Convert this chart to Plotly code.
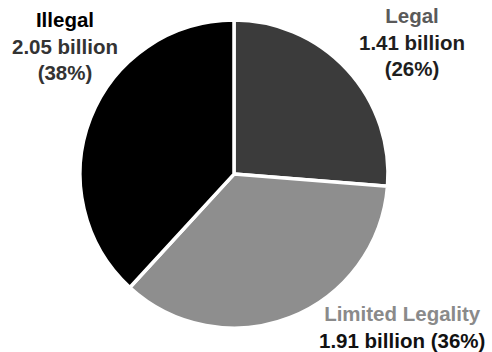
import plotly.graph_objects as go

categories = ["Legal", "Limited Legality", "Illegal"]
values_billion = [1.41, 1.91, 2.05]
slice_colors = ["#3b3b3b", "#8e8e8e", "#000000"]
name_colors = ["#5a5a5a", "#8a8a8a", "#000000"]
value_colors = ["#1e1e1e", "#111111", "#333333"]

total = sum(values_billion)
pcts = [round(v / total * 100) for v in values_billion]

fig = go.Figure(go.Pie(
    labels=categories,
    values=values_billion,
    sort=False,
    direction="clockwise",
    rotation=0,
    textinfo="none",
    hoverinfo="label+value+percent",
    marker=dict(colors=slice_colors, line=dict(color="white", width=3.5)),
    domain=dict(x=[0.1626, 0.7886], y=[0.068, 0.943]),
    showlegend=False,
))

font = dict(family="Liberation Sans, Arial, sans-serif", size=20.5, color="#222222")

def label(i, two_lines=False):
    name = f"<b><span style='color:{name_colors[i]}'>{categories[i]}</span></b>"
    val = f"<b><span style='color:{value_colors[i]}'>{values_billion[i]:.2f} billion</span></b>"
    pct = f"<b><span style='color:{value_colors[i]}'>({pcts[i]}%)</span></b>"
    if two_lines:
        return f"{name}<br>{val} {pct}"
    return f"{name}<br>{val}<br>{pct}"

fig.add_annotation(text=label(2), x=65/492, y=1-46/352, xref="paper", yref="paper",
                   showarrow=False, font=font, align="center", xanchor="center", yanchor="middle")
fig.add_annotation(text=label(0), x=412/492, y=1-42/352, xref="paper", yref="paper",
                   showarrow=False, font=font, align="center", xanchor="center", yanchor="middle")
fig.add_annotation(text=label(1, True), x=402/492, y=1-327/352, xref="paper", yref="paper",
                   showarrow=False, font=font, align="center", xanchor="center", yanchor="middle")

fig.update_layout(
    width=492, height=352,
    margin=dict(l=0, r=0, t=0, b=0),
    paper_bgcolor="white", plot_bgcolor="white",
)

fig.write_html("out.html")
